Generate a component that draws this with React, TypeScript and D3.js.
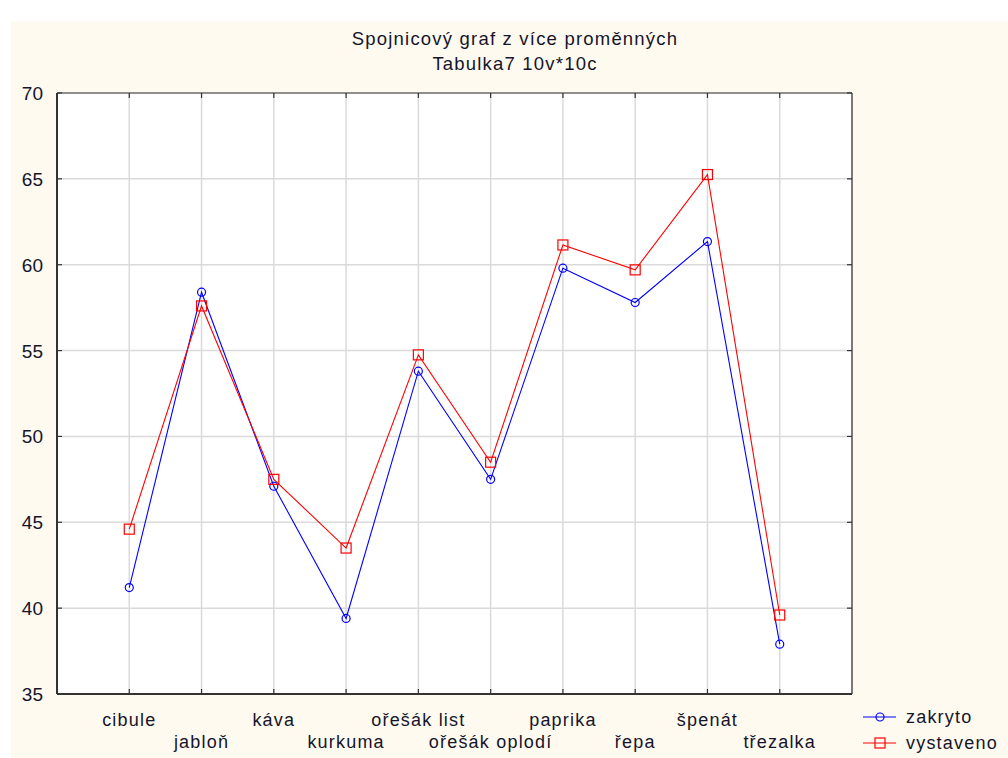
import React from "react";
import * as d3 from "d3";

const categories = ["cibule", "jabloň", "káva", "kurkuma", "ořešák list", "ořešák oplodí", "paprika", "řepa", "špenát", "třezalka"];
const zakryto = [41.2, 58.4, 47.1, 39.4, 53.8, 47.5, 59.8, 57.8, 61.35, 37.9];
const vystaveno = [44.6, 57.6, 47.5, 43.5, 54.75, 48.5, 61.15, 59.7, 65.25, 39.6];
const yTicks = [35, 40, 45, 50, 55, 60, 65, 70];
const titleLines = ["Spojnicový graf z více proměnných", "Tabulka7 10v*10c"];
const seriesNames = ["zakryto", "vystaveno"];

const W = 1008, H = 758;
const L = 57, R = 852, T = 93, B = 694;
const FONT = "'Liberation Sans', Arial, sans-serif";
const TXT = "#15152a";

export default function App() {
  const x = d3.scalePoint<string>().domain(categories).range([L, R]).padding(1);
  const y = d3.scaleLinear().domain([35, 70]).range([B, T]);
  const line = d3.line<number>().x((_, i) => x(categories[i]) as number).y((d) => y(d));
  const tickPos = [L, ...categories.map((c) => x(c) as number)];

  return (
    <svg width={W} height={H} style={{ position: "absolute", left: 0, top: 0 }}>
      <rect x={0} y={0} width={W} height={H} fill="#ffffff" />
      <rect x={11} y={21} width={W - 11} height={H - 21} fill="#fffaf0" />
      {titleLines.map((t, i) => (
        <text key={t} x={515} y={45 + i * 25} textAnchor="middle" fontFamily={FONT} fontSize={18.5} letterSpacing={1.2} fill={TXT}>{t}</text>
      ))}
      <rect x={L} y={T} width={R - L} height={B - T} fill="#ffffff" />
      {/* grid */}
      {yTicks.slice(1, -1).map((v) => (
        <line key={"gy" + v} x1={L} x2={R} y1={y(v)} y2={y(v)} stroke="#dadada" strokeWidth={1.5} />
      ))}
      {categories.map((c) => (
        <line key={"gx" + c} x1={x(c)} x2={x(c)} y1={T} y2={B} stroke="#dadada" strokeWidth={1.5} />
      ))}
      {/* frame */}
      <line x1={L} x2={R} y1={T} y2={T} stroke="#222" strokeWidth={1.2} />
      <line x1={R} x2={R} y1={T} y2={B} stroke="#222" strokeWidth={1.2} />
      <line x1={L} x2={L} y1={T} y2={B} stroke="#333" strokeWidth={2} />
      <line x1={L} x2={R} y1={B} y2={B} stroke="#333" strokeWidth={2} />
      {/* ticks */}
      {tickPos.map((p, i) => (
        <g key={"tx" + i}>
          <line x1={p} x2={p} y1={B} y2={B - 5} stroke="#333" strokeWidth={1.2} />
          <line x1={p} x2={p} y1={T} y2={T + 5} stroke="#333" strokeWidth={1.2} />
        </g>
      ))}
      {yTicks.map((v) => (
        <g key={"ty" + v}>
          <line x1={L} x2={L + 5} y1={y(v)} y2={y(v)} stroke="#333" strokeWidth={1.2} />
          <line x1={R} x2={R - 5} y1={y(v)} y2={y(v)} stroke="#333" strokeWidth={1.2} />
          <text x={43} y={y(v) + 7} textAnchor="end" fontFamily={FONT} fontSize={19} fill={TXT}>{v}</text>
        </g>
      ))}
      {categories.map((c, i) => (
        <text key={"lx" + c} x={x(c)} y={i % 2 === 0 ? 726 : 748} textAnchor="middle" fontFamily={FONT} fontSize={18} letterSpacing={1.2} fill={TXT}>{c}</text>
      ))}
      {/* series */}
      <path d={line(zakryto) || ""} fill="none" stroke="#0000ff" strokeWidth={1.1} />
      <path d={line(vystaveno) || ""} fill="none" stroke="#ff0000" strokeWidth={1.1} />
      {zakryto.map((v, i) => (
        <circle key={"cz" + i} cx={x(categories[i])} cy={y(v)} r={4} fill="none" stroke="#0000ff" strokeWidth={1.2} />
      ))}
      {vystaveno.map((v, i) => (
        <rect key={"rv" + i} x={(x(categories[i]) as number) - 5} y={y(v) - 5} width={10} height={10} fill="none" stroke="#ff0000" strokeWidth={1.2} />
      ))}
      {/* legend */}
      {seriesNames.map((s, i) => {
        const ly = 717 + i * 26;
        const col = i === 0 ? "#0000ff" : "#ff0000";
        return (
          <g key={s}>
            <line x1={863} x2={896} y1={ly} y2={ly} stroke={col} strokeWidth={1.2} />
            {i === 0 ? (
              <circle cx={880} cy={ly} r={4} fill="none" stroke={col} strokeWidth={1.2} />
            ) : (
              <rect x={875} y={ly - 5} width={10} height={10} fill="none" stroke={col} strokeWidth={1.2} />
            )}
            <text x={906} y={ly + 6} fontFamily={FONT} fontSize={18} letterSpacing={1.2} fill={TXT}>{s}</text>
          </g>
        );
      })}
    </svg>
  );
}
